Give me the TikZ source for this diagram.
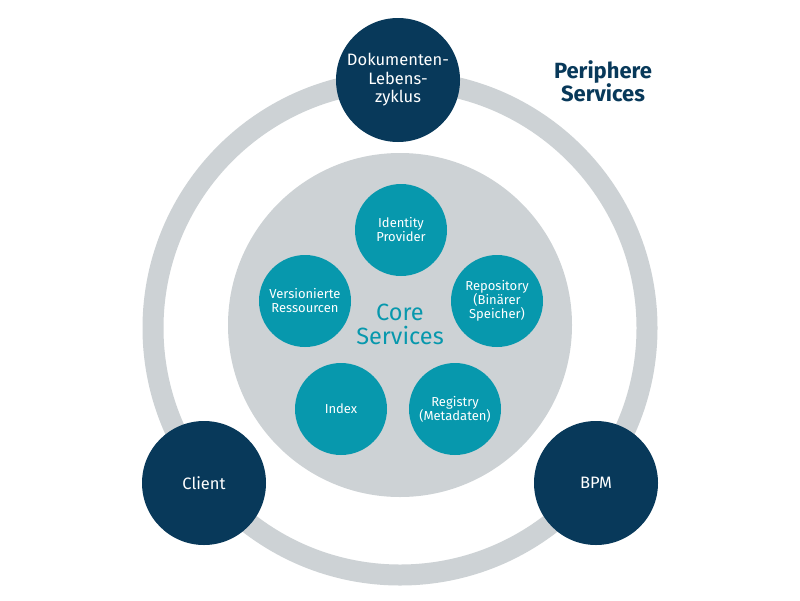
\documentclass[tikz,border=0pt]{standalone}
\usepackage{fontspec}
\setmainfont{Fira Sans}
\definecolor{navy}{HTML}{08395A}
\definecolor{coreteal}{HTML}{0798AD}
\definecolor{ringgray}{HTML}{CDD2D5}
\tikzset{
  periph/.style={circle, fill=navy, text=white, minimum size=124pt, inner sep=0pt, align=center, font=\fontsize{16.5}{18.5}\selectfont},
  core/.style={circle, fill=coreteal, text=white, minimum size=92pt, inner sep=0pt, align=center, font=\fontsize{13}{14}\selectfont},
  ring/.style={draw=ringgray, line width=21pt},
  disk/.style={fill=ringgray, draw=none},
  title/.style={align=center, font=\bfseries\fontsize{22}{23}\selectfont, inner sep=0pt}
}
\begin{document}
\begin{tikzpicture}[x=1pt,y=-1pt]
\useasboundingbox (0,0) rectangle (800,600);
\fill[white] (0,0) rectangle (800,600);
\draw[ring] (400,328) circle[radius=247];
\fill[disk] (400,325) circle[radius=172];
\node[core] (idp) at (401,230) {Identity\\Provider};
\node[core] (repo) at (497,301) {Repository\\(Binärer\\Speicher)};
\node[core] (vers) at (305,301) {Versionierte\\Ressourcen};
\node[core] (index) at (341,409) {Index};
\node[core] (reg) at (455,409) {Registry\\(Metadaten)};
\node[align=center, text=coreteal, font=\fontsize{23.5}{24}\selectfont, inner sep=0pt] (coretitle) at (400,324) {Core\\Services};
\node[periph] (dok) at (398,80) {Dokumenten-\\Lebens-\\zyklus};
\node[periph] (client) at (204,483) {Client};
\node[periph] (bpm) at (596,483) {BPM};
\node[title, text=navy] (pertitle) at (603,81) {Periphere\\Services};
\end{tikzpicture}
\end{document}
